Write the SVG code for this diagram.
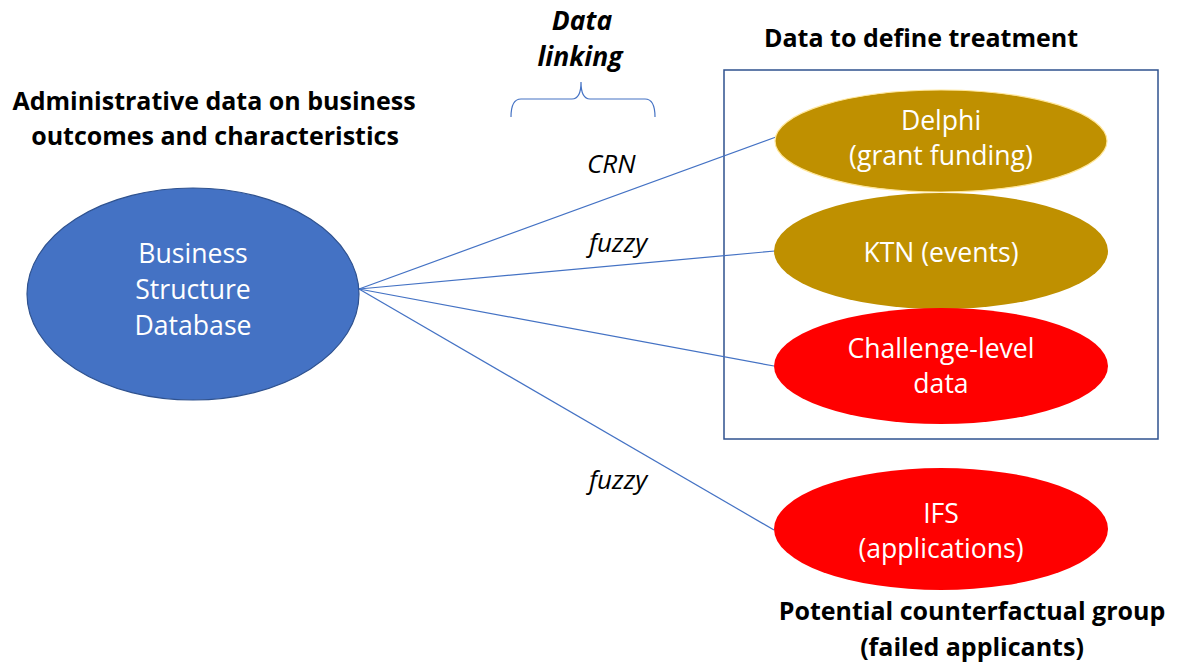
<svg xmlns="http://www.w3.org/2000/svg" width="1177" height="669" viewBox="0 0 1177 669">
  <style>
    .title { font-family: "Open Sans", "Liberation Sans", sans-serif; font-weight: bold; font-size: 25px; fill: #000; text-anchor: middle; }
    .head-ital { font-family: "Open Sans", "Liberation Sans", sans-serif; font-weight: bold; font-style: italic; font-size: 26.5px; fill: #000; text-anchor: middle; }
    .ital { font-family: "Open Sans", "Liberation Sans", sans-serif; font-style: italic; font-size: 26px; fill: #000; }
    .node-label { font-family: "Open Sans", "Liberation Sans", sans-serif; font-size: 26.6px; fill: #fff; text-anchor: middle; }
    .link { stroke: #4472C4; stroke-width: 1.2; fill: none; }
    .gold { fill: #BF9000; }
    .red { fill: #FF0000; }
  </style>
  <rect width="1177" height="669" fill="#fff"/>

  <!-- headings -->
  <text class="title" x="214" y="110">Administrative data on business</text>
  <text class="title" x="215" y="145">outcomes and characteristics</text>
  <text class="title" x="921" y="47">Data to define treatment</text>
  <text class="title" x="972" y="620">Potential counterfactual group</text>
  <text class="title" x="972" y="656">(failed applicants)</text>
  <text class="head-ital" x="582" y="30">Data</text>
  <text class="head-ital" x="580" y="66">linking</text>

  <!-- brace over the linking column -->
  <path d="M511,117 Q511,99 521,99 L572,99 Q581,99 581,82 Q581,99 590,99 L645,99 Q655,99 655,117" fill="none" stroke="#4472C4" stroke-width="1.2"/>

  <!-- treatment frame -->
  <rect x="724" y="70" width="434" height="369" fill="none" stroke="#2F528F" stroke-width="1.5"/>

  <g id="connectors">
    <line class="link" x1="359" y1="289" x2="776" y2="137"/>
    <line class="link" x1="359" y1="289" x2="775" y2="251"/>
    <line class="link" x1="359" y1="289" x2="774" y2="366"/>
    <line class="link" x1="359" y1="289" x2="774" y2="530"/>
    <text class="ital" x="587" y="173">CRN</text>
    <text class="ital" x="589" y="252">fuzzy</text>
    <text class="ital" x="589" y="489">fuzzy</text>
  </g>

  <g id="bsd">
    <ellipse cx="193" cy="294" rx="166" ry="106" fill="#4472C4" stroke="#2F528F" stroke-width="1.2"/>
    <text class="node-label" x="193" y="263">Business</text>
    <text class="node-label" x="193" y="299">Structure</text>
    <text class="node-label" x="193" y="335">Database</text>
  </g>

  <g id="delphi">
    <ellipse class="gold" cx="941" cy="141" rx="166" ry="51" stroke="#FFE699" stroke-width="1.2"/>
    <text class="node-label" x="941" y="130">Delphi</text>
    <text class="node-label" x="941" y="165">(grant funding)</text>
  </g>

  <g id="ktn">
    <ellipse class="gold" cx="941" cy="251" rx="167" ry="58"/>
    <text class="node-label" x="941" y="262">KTN (events)</text>
  </g>

  <g id="challenge">
    <ellipse class="red" cx="941" cy="366" rx="167" ry="58"/>
    <text class="node-label" x="941" y="358">Challenge-level</text>
    <text class="node-label" x="941" y="393">data</text>
  </g>

  <g id="ifs">
    <ellipse class="red" cx="941" cy="529" rx="167" ry="61"/>
    <text class="node-label" x="941" y="523">IFS</text>
    <text class="node-label" x="941" y="558">(applications)</text>
  </g>
</svg>
